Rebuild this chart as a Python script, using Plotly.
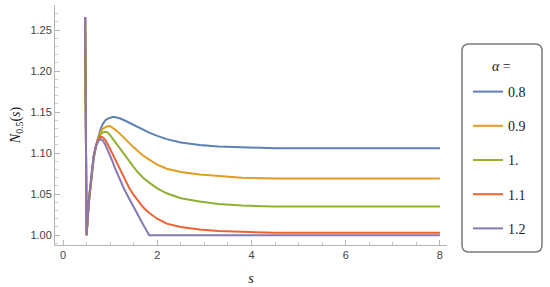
import plotly.graph_objects as go

s_grid = [0.47, 0.5, 0.55, 0.6, 0.65, 0.7, 0.75, 0.8, 0.85, 0.9, 0.95, 1.0, 1.05, 1.1,
          1.2, 1.3, 1.4, 1.5, 1.6, 1.7, 1.83, 2.0, 2.2, 2.5, 2.9, 3.3, 3.8, 4.5, 5.5, 8.0]

alpha_labels = ["0.8", "0.9", "1.", "1.1", "1.2"]

n_08 = [1.266, 1.0, 1.040, 1.070, 1.093, 1.109, 1.121, 1.130, 1.136, 1.140, 1.142, 1.1435, 1.144, 1.144,
        1.1425, 1.140, 1.137, 1.134, 1.131, 1.128, 1.125, 1.121, 1.117, 1.113, 1.110, 1.108, 1.107, 1.106, 1.106, 1.106]
n_09 = [1.266, 1.0, 1.041, 1.071, 1.094, 1.109, 1.119, 1.126, 1.130, 1.132, 1.133, 1.1328, 1.131, 1.129,
        1.124, 1.118, 1.112, 1.107, 1.102, 1.097, 1.092, 1.086, 1.081, 1.077, 1.074, 1.072, 1.070, 1.069, 1.069, 1.069]
n_10 = [1.266, 1.0, 1.042, 1.072, 1.095, 1.109, 1.118, 1.123, 1.1255, 1.126, 1.125, 1.122, 1.118, 1.114,
        1.106, 1.098, 1.090, 1.083, 1.076, 1.070, 1.064, 1.057, 1.051, 1.045, 1.041, 1.038, 1.036, 1.035, 1.035, 1.035]
n_11 = [1.266, 1.0, 1.043, 1.074, 1.096, 1.109, 1.117, 1.120, 1.119, 1.116, 1.111, 1.105, 1.099, 1.093,
        1.080, 1.068, 1.058, 1.049, 1.041, 1.034, 1.027, 1.020, 1.014, 1.010, 1.007, 1.005, 1.004, 1.003, 1.003, 1.003]
n_12 = [1.266, 1.0, 1.045, 1.076, 1.097, 1.108, 1.115, 1.117, 1.115, 1.110, 1.104, 1.097, 1.090, 1.082,
        1.068, 1.056, 1.045, 1.034, 1.023, 1.013, 1.0, 1.0, 1.0, 1.0, 1.0, 1.0, 1.0, 1.0, 1.0, 1.0]

series = [n_08, n_09, n_10, n_11, n_12]
colors = ["#5E81B5", "#E19C24", "#8FB032", "#EB6235", "#8778B3"]

fig = go.Figure()
for lab, ys, c in zip(alpha_labels, series, colors):
    fig.add_trace(go.Scatter(x=s_grid, y=ys, mode="lines", name=lab, legendgroup=lab,
                             line=dict(color=c, width=2)))

W, H = 550, 287
ml, mr, mt, mb = 55, 103, 5, 42
pw, ph = W - ml - mr, H - mt - mb

def px2paper(x, y):
    return (x - ml) / pw, (H - mb - y) / ph

x0, y0 = px2paper(462, 44)
x1, y1 = px2paper(542, 252)
rx, ry = 7 / pw, 7 / ph
path = (f"M {x0+rx},{y0} L {x1-rx},{y0} Q {x1},{y0} {x1},{y0-ry} "
        f"L {x1},{y1+ry} Q {x1},{y1} {x1-rx},{y1} L {x0+rx},{y1} Q {x0},{y1} {x0},{y1+ry} "
        f"L {x0},{y0-ry} Q {x0},{y0} {x0+rx},{y0} Z")
fig.add_shape(type="path", path=path, xref="paper", yref="paper",
              line=dict(color="#7a7a7a", width=1.5), fillcolor="rgba(0,0,0,0)")

tx, ty = px2paper(501, 66)
fig.add_annotation(x=tx, y=ty, xref="paper", yref="paper", text="<i>α</i> =",
                   showarrow=False, xanchor="center", yanchor="middle",
                   font=dict(family="Liberation Serif", size=14, color="#222"))

lx, ly = px2paper(468, 76)
fig.update_layout(
    width=W, height=H,
    margin=dict(l=ml, r=mr, t=mt, b=mb, autoexpand=False),
    plot_bgcolor="white", paper_bgcolor="white",
    showlegend=True,
    legend=dict(x=lx, y=ly, xanchor="left", yanchor="top",
                bgcolor="rgba(0,0,0,0)", borderwidth=0,
                font=dict(family="Liberation Serif", size=14, color="#222"),
                tracegroupgap=13, itemwidth=30),
    xaxis=dict(range=[-0.17, 8.15], showgrid=False, zeroline=False,
               showline=True, linecolor="#b5b5b5", linewidth=1,
               ticks="inside", ticklen=5, tickcolor="#b5b5b5",
               tickvals=[0, 2, 4, 6, 8], ticktext=["0", "2", "4", "6", "8"],
               minor=dict(ticks="inside", ticklen=3, tickcolor="#c8c8c8", dtick=0.5),
               tickfont=dict(family="Liberation Sans", size=11, color="#444"),
               title=dict(text="<i>s</i>", standoff=12,
                          font=dict(family="Liberation Serif", size=14, color="#222"))),
    yaxis=dict(range=[0.988, 1.2805], showgrid=False, zeroline=False,
               showline=True, linecolor="#b5b5b5", linewidth=1,
               ticks="inside", ticklen=5, tickcolor="#b5b5b5",
               tickvals=[1.0, 1.05, 1.10, 1.15, 1.20, 1.25],
               ticktext=["1.00", "1.05", "1.10", "1.15", "1.20", "1.25"],
               minor=dict(ticks="inside", ticklen=3, tickcolor="#c8c8c8", dtick=0.01),
               tickfont=dict(family="Liberation Sans", size=11, color="#444"),
               title=dict(text="<i>N</i><sub>0.5</sub>(<i>s</i>)", standoff=6,
                          font=dict(family="Liberation Serif", size=14, color="#222"))),
)

fig.write_html("out.html", config={"displayModeBar": False},
               post_script="document.body.style.margin='0';")
